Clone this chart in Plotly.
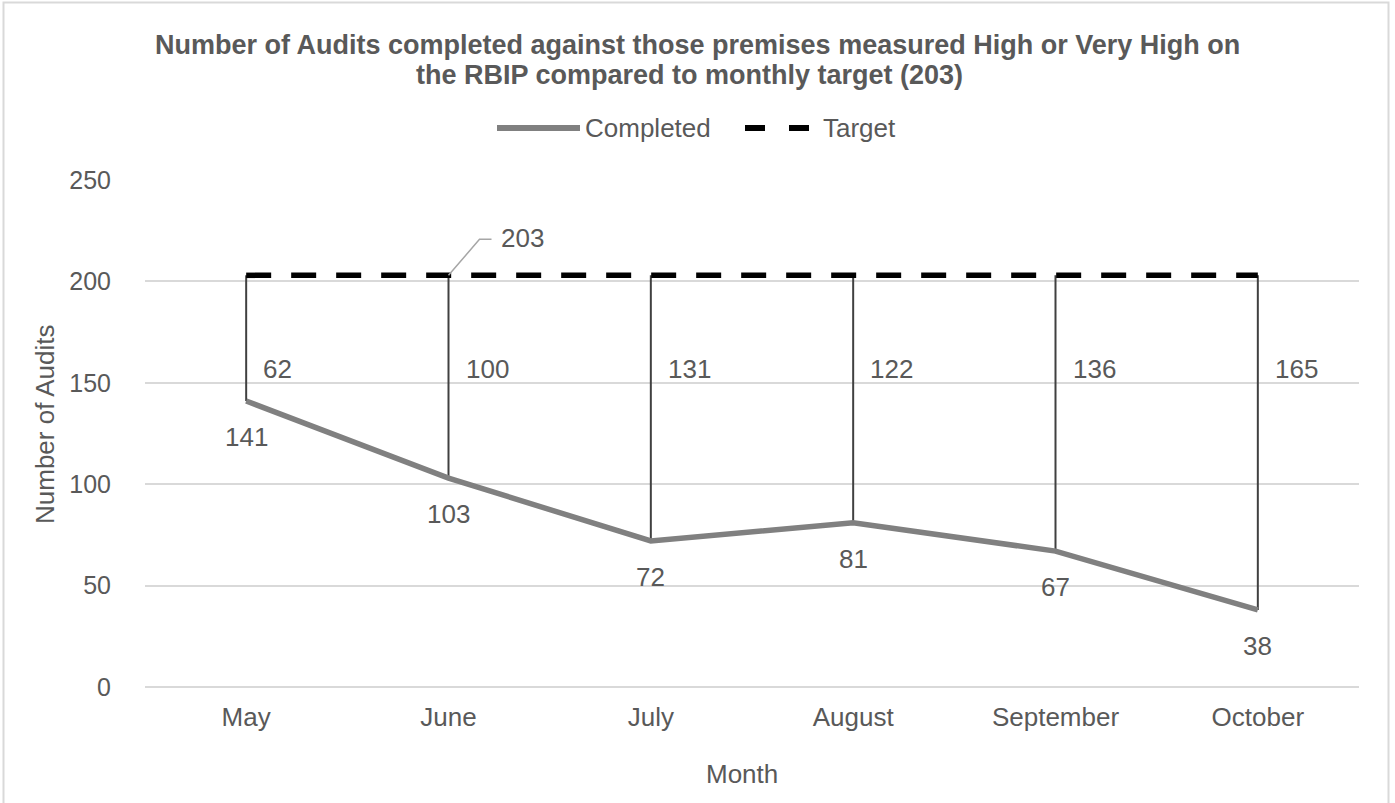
import plotly.graph_objects as go

# Monthly audit counts against the High / Very High RBIP target
months = ["May", "June", "July", "August", "September", "October"]
completed = [141, 103, 72, 81, 67, 38]
target = 203
shortfall = [target - c for c in completed]  # 62, 100, 131, 122, 136, 165
y_ticks = [0, 50, 100, 150, 200, 250]

FONT = "Liberation Sans, Arial, sans-serif"
TEXT = "#595959"
GRID = "#d9d9d9"

W, H = 1395, 803
ML, MR, MT, MB = 145, 36, 180, 116
PW, PH = W - ML - MR, H - MT - MB


def fx(x):
    """figure pixel x -> paper x"""
    return (x - ML) / PW


def fy(y):
    """figure pixel y (from top) -> paper y"""
    return (H - MB - y) / PH


fig = go.Figure()

# vertical drop lines from each month's result up to the target
drop_x, drop_y = [], []
for m, c in zip(months, completed):
    drop_x += [m, m, None]
    drop_y += [c, target, None]
fig.add_trace(go.Scatter(
    x=drop_x, y=drop_y, mode="lines", connectgaps=False,
    line=dict(color="#404040", width=2), showlegend=False, hoverinfo="skip"))

fig.add_trace(go.Scatter(
    x=months, y=[target] * len(months), mode="lines", name="Target",
    line=dict(color="#000000", width=5.5, dash="25px,20px"), showlegend=False))

fig.add_trace(go.Scatter(
    x=months, y=completed, mode="lines", name="Completed",
    line=dict(color="#808080", width=5.5), showlegend=False))

ann = []
label_font = dict(family=FONT, size=26, color=TEXT)

# completed values under each point
for m, c in zip(months, completed):
    ann.append(dict(x=m, y=c, text=str(c), showarrow=False, yshift=-36,
                    xanchor="center", yanchor="middle", font=label_font))

# shortfall against target beside each drop line
SHORTFALL_Y = 157
for m, s in zip(months, shortfall):
    ann.append(dict(x=m, y=SHORTFALL_Y, text=str(s), showarrow=False,
                    xanchor="left", yanchor="middle", xshift=15, font=label_font))

# target value callout at June
callout_i = months.index("June")
ann.append(dict(x=months[callout_i], y=target, text=str(target), showarrow=False,
                xanchor="left", yanchor="middle", xshift=50, yshift=37, font=label_font))

# title (two lines)
title_font = dict(family=FONT, size=27, color=TEXT, weight="bold")
ann.append(dict(xref="paper", yref="paper", x=fx(697), y=fy(45),
                text="Number of Audits completed against those premises measured High or Very High on",
                xanchor="center", yanchor="middle", showarrow=False, font=title_font))
ann.append(dict(xref="paper", yref="paper", x=fx(689), y=fy(75),
                text="the RBIP compared to monthly target (203)",
                xanchor="center", yanchor="middle", showarrow=False, font=title_font))

# legend text
ann.append(dict(xref="paper", yref="paper", x=fx(583), y=fy(128), text="Completed",
                xanchor="left", yanchor="middle", showarrow=False, font=label_font))
ann.append(dict(xref="paper", yref="paper", x=fx(821), y=fy(128), text="Target",
                xanchor="left", yanchor="middle", showarrow=False, font=label_font))

# axis titles
ann.append(dict(xref="paper", yref="paper", x=fx(742), y=fy(774), text="Month",
                xanchor="center", yanchor="middle", showarrow=False, font=label_font))
ann.append(dict(xref="paper", yref="paper", x=fx(45), y=fy(425), text="Number of Audits",
                xanchor="center", yanchor="middle", textangle=-90, showarrow=False,
                font=label_font))

shapes = [
    # legend swatches
    dict(type="line", xref="paper", yref="paper", x0=fx(497), x1=fx(580),
         y0=fy(128), y1=fy(128), line=dict(color="#808080", width=6)),
    dict(type="line", xref="paper", yref="paper", x0=fx(745), x1=fx(812),
         y0=fy(128), y1=fy(128), line=dict(color="#000000", width=6, dash="20px,24px")),
    # callout leader for the target label
    dict(type="path", xref="x", yref="y", xsizemode="pixel", ysizemode="pixel",
         xanchor=callout_i, yanchor=target, path="M0,0 L31,36 L43,36",
         line=dict(color="#a6a6a6", width=1.5)),
    # chart border
    dict(type="rect", xref="paper", yref="paper", x0=fx(3.5), x1=fx(1388.5),
         y0=fy(2.5), y1=fy(830), line=dict(color=GRID, width=2),
         fillcolor="rgba(0,0,0,0)", layer="below"),
]

fig.update_layout(
    width=W, height=H,
    margin=dict(l=ML, r=MR, t=MT, b=MB),
    paper_bgcolor="#ffffff", plot_bgcolor="#ffffff",
    font=dict(family=FONT, color=TEXT),
    showlegend=False,
    annotations=ann,
    shapes=shapes,
    xaxis=dict(
        type="category", categoryorder="array", categoryarray=months,
        range=[-0.5, len(months) - 0.5],
        showgrid=False, zeroline=False, showline=False, ticks="",
        tickfont=dict(family=FONT, size=26, color=TEXT),
        ticklabelstandoff=12,
    ),
    yaxis=dict(
        range=[0, 250], tickvals=y_ticks,
        showgrid=True, gridcolor=GRID, gridwidth=2,
        zeroline=True, zerolinecolor=GRID, zerolinewidth=2,
        showline=False, ticks="",
        tickfont=dict(family=FONT, size=25, color=TEXT),
        ticklabelstandoff=33,
    ),
)

fig.write_html("out.html")
